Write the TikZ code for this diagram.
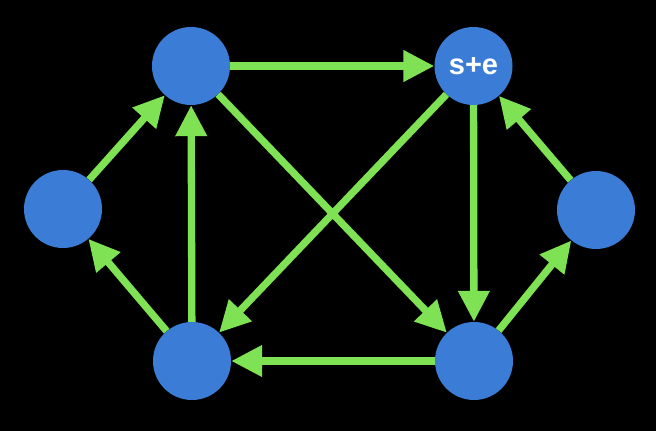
\documentclass[tikz,border=0pt]{standalone}
\usepackage{fontspec}
\setmainfont{Liberation Sans}
\usetikzlibrary{arrows.meta}
\definecolor{nodeblue}{RGB}{59,125,214}
\definecolor{edgegreen}{RGB}{126,226,84}
\begin{document}
\begin{tikzpicture}[x=1pt,y=-1pt,
  vertex/.style={circle,fill=nodeblue,minimum size=78pt,inner sep=0pt,draw=none,
    text=white,font=\bfseries\fontsize{29}{29}\selectfont},
  edge/.style={draw=edgegreen,line width=7.3pt,
    -{Triangle[length=31pt,width=30pt]}}]
\fill[black] (0,0) rectangle (656,431);
\useasboundingbox (0,0) rectangle (656,431);
\node[vertex] (L)  at (63,209) {};
\node[vertex] (TL) at (191,66) {};
\node[vertex] (TR) at (473.5,66) {s+e};
\node[vertex] (R)  at (596,210) {};
\node[vertex] (BL) at (192,361) {};
\node[vertex] (BR) at (474,361) {};
\draw[edge] (TL) -- (TR);
\draw[edge] (L) -- (TL);
\draw[edge] (BL) -- (L);
\draw[edge] (BL) -- (TL);
\draw[edge] (TR) -- (BL);
\draw[edge] (TL) -- (BR);
\draw[edge] (TR) -- (BR);
\draw[edge] (BR) -- (BL);
\draw[edge] (BR) -- (R);
\draw[edge] (R) -- (TR);
\end{tikzpicture}
\end{document}
